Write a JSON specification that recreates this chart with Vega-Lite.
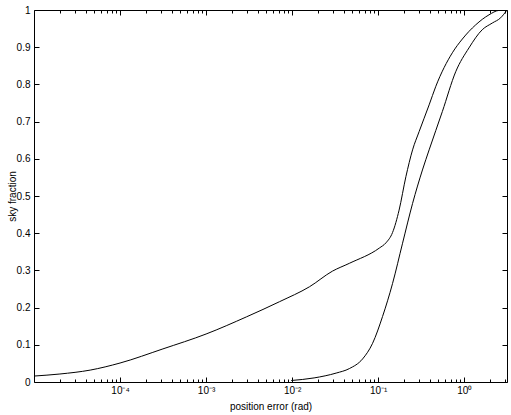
{
  "$schema": "https://vega.github.io/schema/vega-lite/v6.json",
  "width": 473,
  "height": 372,
  "autosize": {"type": "none"},
  "padding": {"left": 34, "top": 10, "right": 4, "bottom": 33},
  "background": "white",
  "config": {
    "view": {"stroke": "#000", "strokeWidth": 1},
    "font": "Liberation Sans",
    "axis": {
      "grid": false,
      "domain": false,
      "tickColor": "#000",
      "tickWidth": 1,
      "labelColor": "#000",
      "titleColor": "#000",
      "labelFont": "Liberation Sans",
      "titleFont": "Liberation Sans",
      "labelFontSize": 10,
      "titleFontSize": 10,
      "titleFontWeight": "normal"
    }
  },
  "datasets": {
    "curves": [
      {"curve": "A", "x": 0.00001, "y": 0.016},
      {"curve": "A", "x": 0.00002, "y": 0.0215},
      {"curve": "A", "x": 0.000045, "y": 0.032},
      {"curve": "A", "x": 0.0001, "y": 0.051},
      {"curve": "A", "x": 0.000315, "y": 0.089},
      {"curve": "A", "x": 0.001, "y": 0.129},
      {"curve": "A", "x": 0.00294, "y": 0.175},
      {"curve": "A", "x": 0.00715, "y": 0.216},
      {"curve": "A", "x": 0.0159, "y": 0.256},
      {"curve": "A", "x": 0.0294, "y": 0.298},
      {"curve": "A", "x": 0.0462, "y": 0.319},
      {"curve": "A", "x": 0.103, "y": 0.36},
      {"curve": "A", "x": 0.123, "y": 0.374},
      {"curve": "A", "x": 0.147, "y": 0.402},
      {"curve": "A", "x": 0.175, "y": 0.462},
      {"curve": "A", "x": 0.21, "y": 0.552},
      {"curve": "A", "x": 0.251, "y": 0.624},
      {"curve": "A", "x": 0.299, "y": 0.673},
      {"curve": "A", "x": 0.391, "y": 0.745},
      {"curve": "A", "x": 0.468, "y": 0.795},
      {"curve": "A", "x": 0.728, "y": 0.885},
      {"curve": "A", "x": 0.951, "y": 0.922},
      {"curve": "A", "x": 1.358, "y": 0.96},
      {"curve": "A", "x": 1.94, "y": 0.987},
      {"curve": "A", "x": 2.53, "y": 0.999},
      {"curve": "A", "x": 3.1416, "y": 1.0},
      {"curve": "B", "x": 0.00977, "y": 0.004},
      {"curve": "B", "x": 0.018, "y": 0.011},
      {"curve": "B", "x": 0.0325, "y": 0.024},
      {"curve": "B", "x": 0.0462, "y": 0.036},
      {"curve": "B", "x": 0.0659, "y": 0.062},
      {"curve": "B", "x": 0.0861, "y": 0.104},
      {"curve": "B", "x": 0.1124, "y": 0.176},
      {"curve": "B", "x": 0.147, "y": 0.265},
      {"curve": "B", "x": 0.192, "y": 0.373},
      {"curve": "B", "x": 0.251, "y": 0.48},
      {"curve": "B", "x": 0.327, "y": 0.57},
      {"curve": "B", "x": 0.391, "y": 0.624},
      {"curve": "B", "x": 0.557, "y": 0.727},
      {"curve": "B", "x": 0.796, "y": 0.834},
      {"curve": "B", "x": 1.134, "y": 0.898},
      {"curve": "B", "x": 1.62, "y": 0.947},
      {"curve": "B", "x": 2.12, "y": 0.965},
      {"curve": "B", "x": 2.65, "y": 0.979},
      {"curve": "B", "x": 3.1416, "y": 1.0}
    ]
  },
  "data": {"name": "curves"},
  "layer": [
    {
      "mark": {"type": "line", "color": "#000", "strokeWidth": 1, "clip": true, "interpolate": "monotone"},
      "encoding": {
        "x": {
          "field": "x",
          "type": "quantitative",
          "scale": {"type": "log", "domain": [0.00001, 3.1416], "nice": false},
          "axis": {
            "orient": "bottom",
            "title": "position error (rad)",
            "titlePadding": 4,
            "values": [0.00002,0.00003,0.00004,0.00005,0.00006,0.00007,0.00008,0.00009,0.0001,0.0002,0.0003,0.0004,0.0005,0.0006,0.0007,0.0008,0.0009,0.001,0.002,0.003,0.004,0.005,0.006,0.007,0.008,0.009,0.01,0.02,0.03,0.04,0.05,0.06,0.07,0.08,0.09,0.1,0.2,0.3,0.4,0.5,0.6,0.7,0.8,0.9,1,2,3],
            "tickSize": {"condition": {"test": "abs(log(datum.value)/LN10 - round(log(datum.value)/LN10)) < 0.000001", "value": -5}, "value": -3},
            "labelPadding": 8,
            "labelExpr": "abs(log(datum.value)/LN10 - round(log(datum.value)/LN10)) < 0.000001 ? ['10⁻⁴','10⁻³','10⁻²','10⁻¹','10⁰'][round(log(datum.value)/LN10) + 4] : ''",
            "labelFlush": false,
            "labelOverlap": false
          }
        },
        "y": {
          "field": "y",
          "type": "quantitative",
          "scale": {"domain": [0, 1], "nice": false, "zero": false},
          "axis": {
            "orient": "left",
            "title": "sky fraction",
            "values": [0,0.1,0.2,0.3,0.4,0.5,0.6,0.7,0.8,0.9,1],
            "tickSize": -5,
            "labelPadding": 9,
            "labelFlush": false,
            "labelOverlap": false,
            "titlePadding": -1,
            "labelExpr": "format(datum.value, '~g')"
          }
        },
        "detail": {"field": "curve", "type": "nominal"}
      }
    },
    {
      "mark": {"type": "line", "opacity": 0},
      "encoding": {
        "x": {
          "field": "x",
          "type": "quantitative",
          "scale": {"type": "log", "domain": [0.00001, 3.1416], "nice": false},
          "axis": {
            "orient": "top",
            "title": null,
            "labels": false,
            "values": [0.00002,0.00003,0.00004,0.00005,0.00006,0.00007,0.00008,0.00009,0.0001,0.0002,0.0003,0.0004,0.0005,0.0006,0.0007,0.0008,0.0009,0.001,0.002,0.003,0.004,0.005,0.006,0.007,0.008,0.009,0.01,0.02,0.03,0.04,0.05,0.06,0.07,0.08,0.09,0.1,0.2,0.3,0.4,0.5,0.6,0.7,0.8,0.9,1,2,3],
            "tickSize": {"condition": {"test": "abs(log(datum.value)/LN10 - round(log(datum.value)/LN10)) < 0.000001", "value": -5}, "value": -3}
          }
        },
        "y": {
          "field": "y",
          "type": "quantitative",
          "scale": {"domain": [0, 1], "nice": false, "zero": false},
          "axis": {
            "orient": "right",
            "title": null,
            "labels": false,
            "values": [0,0.1,0.2,0.3,0.4,0.5,0.6,0.7,0.8,0.9,1],
            "tickSize": -5
          }
        },
        "detail": {"field": "curve", "type": "nominal"}
      }
    }
  ],
  "resolve": {"axis": {"x": "independent", "y": "independent"}}
}
